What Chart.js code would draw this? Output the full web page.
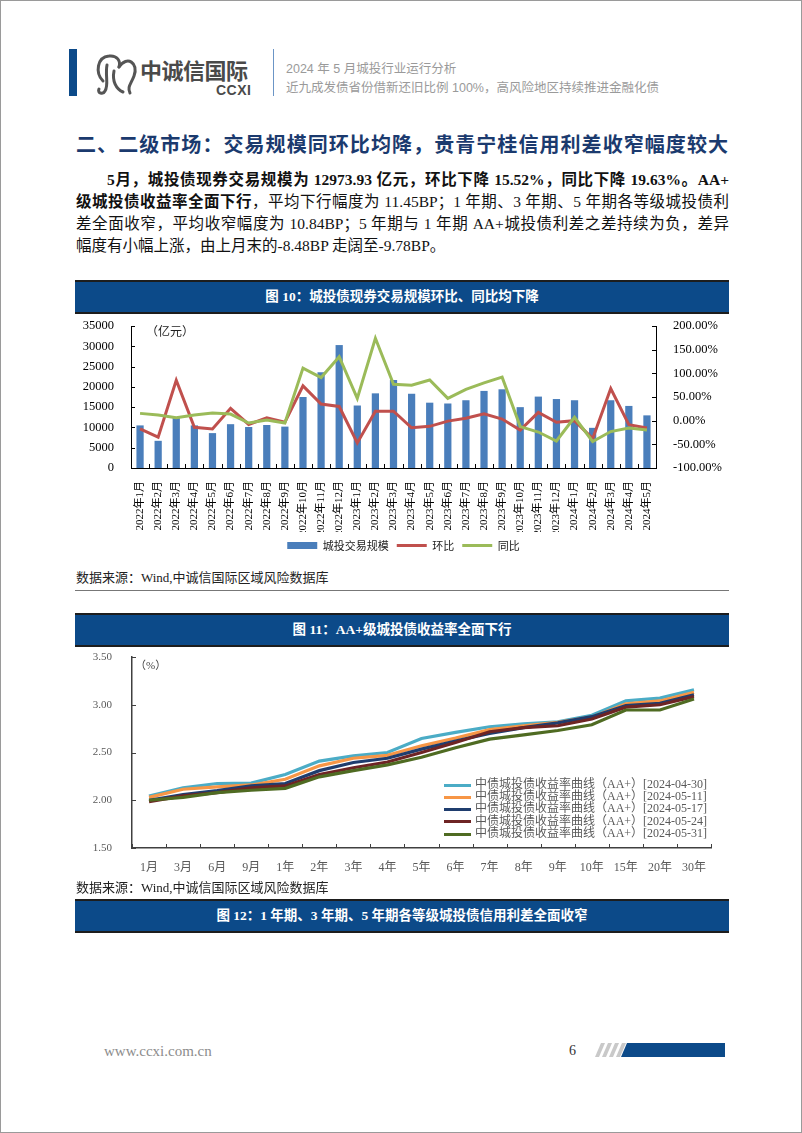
<!DOCTYPE html>
<html>
<head>
<meta charset="utf-8">
<script src="https://cdn.jsdelivr.net/npm/chart.js@4.4.1/dist/chart.umd.min.js"></script>
<style>
body { margin: 0; background: #fff; }
#page { position: relative; width: 800px; height: 1131px; border: 1px solid #9a9a9a; overflow: hidden;
  font-family: "Liberation Serif", "Noto Sans CJK SC", serif; color: #111; }
.abs { position: absolute; }
.hbar { left: 68px; top: 48px; width: 8px; height: 47px; background: #0c4a89; }
.vline { left: 272px; top: 48px; width: 1px; height: 47px; background: #6b95c6; }
.logo-cn { left: 139px; top: 54px; font: bold 22px "Noto Sans CJK SC"; color: #4a4a4a; letter-spacing: -0.5px; line-height: 28px; }
.logo-en { left: 215px; top: 82px; font: bold 14px "Liberation Sans", sans-serif; color: #4a4a4a; letter-spacing: 0.5px; line-height: 15px; }
.htxt { left: 285px; font-size: 12.5px; color: #9a9a9a; font-family: "Liberation Sans", "Noto Sans CJK SC", sans-serif; }
.heading { left: 75px; top: 128px; width: 652px; font: bold 20px "Noto Sans CJK SC"; color: #1b3a6e;
  text-align: justify; text-align-last: justify; }
.para { left: 75px; top: 168px; width: 653px; font-size: 15.5px; }
.para div { height: 22px; line-height: 22px; text-align: justify; text-align-last: justify; white-space: nowrap; }
.para div.last { text-align-last: left; }
.para b { font-weight: bold; }
.figbar { left: 74px; width: 654px; height: 30px; background: #0c4a89; border-top: 2px solid #1d1d1d;
  border-bottom: 2px solid #1d1d1d; color: #fff; font: bold 13.5px "Liberation Serif", "Noto Sans CJK SC";
  text-align: center; line-height: 30px; }
.src { left: 75px; font-size: 13px; color: #222; }
.rule { left: 74px; width: 654px; height: 1px; background: #777; }
canvas { position: absolute; }
.unit { font-size: 12px; color: #222; }
#legend2 { left: 443px; top: 777px; font-size: 12px; color: #595959; }
#legend2 .row { height: 12.2px; line-height: 12.2px; white-space: nowrap; }
#legend2 .sw { display: inline-block; width: 27px; height: 3px; vertical-align: middle; margin-right: 4px; }
.foot { left: 103px; top: 1042px; font-size: 15px; color: #8c8c8c; }
.pno { left: 568px; top: 1042px; font-size: 14px; color: #333; }
</style>
</head>
<body>
<div id="page">
  <div class="abs hbar"></div>
  <svg class="abs" style="left:92px;top:50px" width="46" height="46" viewBox="0 0 46 46">
    <g fill="none" stroke="#555" stroke-width="3" stroke-linecap="round">
      <path d="M10 30 C2 22 4 6 16 5 C24 4 28 10 26 16"/>
      <path d="M26 16 C34 4 46 12 41 25 C38 33 34 36 37 42"/>
      <path d="M14 14 C12 24 16 34 12 40 C10 44 4 42 6 38"/>
      <path d="M21 20 C19 30 23 38 30 41"/>
    </g>
  </svg>
  <div class="abs logo-cn">中诚信国际</div>
  <div class="abs logo-en">CCXI</div>
  <div class="abs vline"></div>
  <div class="abs htxt" style="top:57px">2024 年 5 月城投行业运行分析</div>
  <div class="abs htxt" style="top:76px">近九成发债省份借新还旧比例 100%，高风险地区持续推进金融化债</div>

  <div class="abs heading">二、二级市场：交易规模同环比均降，贵青宁桂信用利差收窄幅度较大</div>
  <div class="abs para">
    <div style="padding-left:31px"><b>5月，城投债现券交易规模为 12973.93 亿元，环比下降 15.52%，同比下降 19.63%。AA+</b></div>
    <div><b>级城投债收益率全面下行</b>，平均下行幅度为 11.45BP；1 年期、3 年期、5 年期各等级城投债利</div>
    <div>差全面收窄，平均收窄幅度为 10.84BP；5 年期与 1 年期 AA+城投债利差之差持续为负，差异</div>
    <div class="last">幅度有小幅上涨，由上月末的-8.48BP 走阔至-9.78BP。</div>
  </div>

  <div class="abs figbar" style="top:279px">图 10：城投债现券交易规模环比、同比均下降</div>
  <canvas id="c1" width="665" height="246" style="left:70px;top:314px"></canvas>
  <div class="abs unit" style="left:145px;top:321px">（亿元）</div>
  <div class="abs src" style="top:566px">数据来源：Wind,中诚信国际区域风险数据库</div>
  <div class="abs rule" style="top:589px"></div>

  <div class="abs figbar" style="top:612px">图 11：AA+级城投债收益率全面下行</div>
  <canvas id="c2" width="660" height="234" style="left:70px;top:646px"></canvas>
  <div class="abs unit" style="left:134px;top:655px;font-size:11px;color:#444">（%）</div>
  <div class="abs" id="legend2"></div>
  <div class="abs src" style="top:876px">数据来源：Wind,中诚信国际区域风险数据库</div>

  <div class="abs figbar" style="top:898px">图 12：1 年期、3 年期、5 年期各等级城投债信用利差全面收窄</div>

  <div class="abs foot">www.ccxi.com.cn</div>
  <div class="abs pno">6</div>
  <svg class="abs" style="left:588px;top:1042px" width="140" height="14">
    <g fill="#c9c9c9">
      <polygon points="6,14 10,14 16,0 12,0"/>
      <polygon points="13,14 17,14 23,0 19,0"/>
      <polygon points="20,14 24,14 30,0 26,0"/>
      <polygon points="27,14 31,14 37,0 33,0"/>
    </g>
    <polygon points="32,14 136,14 136,0 38,0" fill="#0c4a89"/>
  </svg>
</div>

<script>
// 图10 数据
const months = ['2022年1月', '2022年2月', '2022年3月', '2022年4月', '2022年5月', '2022年6月', '2022年7月', '2022年8月', '2022年9月', '2022年10月', '2022年11月', '2022年12月',
  '2023年1月', '2023年2月', '2023年3月', '2023年4月', '2023年5月', '2023年6月', '2023年7月', '2023年8月', '2023年9月', '2023年10月', '2023年11月', '2023年12月',
  '2024年1月', '2024年2月', '2024年3月', '2024年4月', '2024年5月'];
const volume = [10500, 6700, 12300, 10500, 8600, 10800, 10100, 10600, 10200, 17500, 23600, 30300,
  15400, 18400, 21700, 18300, 16100, 15900, 16700, 19000, 19400, 15000, 17600, 17000,
  16700, 9900, 16700, 15300, 12973.93];
const mom = [-17.5, -35, 85.5, -14, -17.5, 26, -8, 6, -3.5, 73.6, 35, 30,
  -47, 20, 20, -15, -12, -1, 5, 14.7, 3.5, -20, 17.5, -3.5,
  0, -38, 68, -8.4, -15.52];
const yoy = [15.4, 12, 6, 12, 16, 14, -5, 1.6, -5, 111, 91, 135,
  47, 174, 77, 75, 86, 47, 66, 80, 92, -12.5, -24, -43,
  7, -44, -23, -15.5, -19.63];
const volTicks = [0, 5000, 10000, 15000, 20000, 25000, 30000, 35000];
const pctTicks = [-100, -50, 0, 50, 100, 150, 200];

// 图11 数据
const tenors = ['1月', '3月', '6月', '9月', '1年', '2年', '3年', '4年', '5年', '6年', '7年', '8年', '9年', '10年', '15年', '20年', '30年'];
const curveNames = ['中债城投债收益率曲线（AA+）[2024-04-30]', '中债城投债收益率曲线（AA+）[2024-05-11]', '中债城投债收益率曲线（AA+）[2024-05-17]',
  '中债城投债收益率曲线（AA+）[2024-05-24]', '中债城投债收益率曲线（AA+）[2024-05-31]'];
const y0430 = [2.045, 2.13, 2.175, 2.18, 2.27, 2.41, 2.465, 2.50, 2.647, 2.71, 2.77, 2.80, 2.82, 2.89, 3.04, 3.07, 3.157];
const y0511 = [2.03, 2.115, 2.14, 2.16, 2.22, 2.36, 2.44, 2.47, 2.57, 2.65, 2.74, 2.78, 2.815, 2.87, 3.01, 3.04, 3.13];
const y0517 = [2.00, 2.06, 2.10, 2.15, 2.175, 2.31, 2.395, 2.44, 2.535, 2.62, 2.70, 2.76, 2.81, 2.875, 2.99, 3.015, 3.105];
const y0524 = [1.985, 2.045, 2.08, 2.13, 2.15, 2.27, 2.34, 2.40, 2.50, 2.605, 2.717, 2.76, 2.78, 2.85, 2.975, 3.00, 3.085];
const y0531 = [2.00, 2.03, 2.08, 2.105, 2.125, 2.245, 2.31, 2.37, 2.45, 2.55, 2.64, 2.685, 2.73, 2.79, 2.945, 2.945, 3.06];
const yieldTicks = [1.5, 2.0, 2.5, 3.0, 3.5];
const curveColors = ['#4bacc6', '#f79646', '#1f3d6e', '#6e2424', '#4f6b22'];

Chart.defaults.font.family = '"Liberation Serif", "Noto Sans CJK SC", serif';
Chart.defaults.animation = false;

// short tick marks pointing into the plot, like the Excel original
const innerTicks = {
  id: 'innerTicks',
  afterDraw(chart, args, opts) {
    const ctx = chart.ctx;
    const len = opts.len || 4;
    ctx.save();
    ctx.strokeStyle = opts.color || '#000';
    ctx.lineWidth = 1;
    ctx.beginPath();
    Object.values(chart.scales).forEach(s => {
      if (s.axis === 'x') {
        const n = s.ticks.length;
        for (let i = 0; i <= n; i++) {
          const x = Math.round(s.left + i * s.width / n) + 0.5;
          ctx.moveTo(x, s.top);
          ctx.lineTo(x, s.top - len);
        }
      } else {
        const left = s.position === 'left';
        const edge = left ? s.right : s.left;
        s.ticks.forEach((t, i) => {
          const y = Math.round(s.getPixelForTick(i)) + 0.5;
          ctx.moveTo(edge, y);
          ctx.lineTo(edge + (left ? len : -len), y);
        });
      }
    });
    ctx.stroke();
    ctx.restore();
  }
};

// fixed axis size, and keep label overflow from pushing the plot area down
const fixWidth = w => s => { s.width = w; s.paddingTop = 0; s.paddingBottom = 0; };

new Chart(document.getElementById('c1'), {
  type: 'bar',
  plugins: [innerTicks],
  data: {
    labels: months,
    datasets: [
      {
        label: '城投交易规模',
        data: volume,
        backgroundColor: '#4a7ebb',
        borderWidth: 0,
        barPercentage: 0.4,
        categoryPercentage: 1,
        pointStyle: 'rect',
        yAxisID: 'y',
        order: 3
      },
      {
        type: 'line',
        label: '环比',
        data: mom,
        borderColor: '#c0504d',
        backgroundColor: '#c0504d',
        borderWidth: 3,
        pointRadius: 0,
        pointStyle: 'line',
        tension: 0,
        yAxisID: 'y1',
        order: 2
      },
      {
        type: 'line',
        label: '同比',
        data: yoy,
        borderColor: '#9bbb59',
        backgroundColor: '#9bbb59',
        borderWidth: 3,
        pointRadius: 0,
        pointStyle: 'line',
        tension: 0,
        yAxisID: 'y1',
        order: 1
      }
    ]
  },
  options: {
    responsive: false,
    layout: { padding: { top: 11 } },
    scales: {
      x: {
        grid: { display: false },
        border: { display: true, color: '#000', width: 1 },
        ticks: { autoSkip: false, minRotation: 90, maxRotation: 90, padding: 5, color: '#000', font: { size: 11 } },
        afterFit: s => { s.height = 64; }
      },
      y: {
        position: 'left',
        min: 0,
        max: 35000,
        afterBuildTicks: s => { s.ticks = volTicks.map(v => ({ value: v })); },
        grid: { display: false },
        border: { display: true, color: '#000', width: 1 },
        ticks: { autoSkip: false, padding: 9, color: '#000', font: { size: 12.5 }, callback: v => String(v) },
        afterFit: fixWidth(60)
      },
      y1: {
        position: 'right',
        min: -100,
        max: 200,
        afterBuildTicks: s => { s.ticks = pctTicks.map(v => ({ value: v })); },
        grid: { display: false },
        border: { display: true, color: '#000', width: 1 },
        ticks: { autoSkip: false, padding: 9, color: '#000', font: { size: 12.5 }, callback: v => v.toFixed(2) + '%' },
        afterFit: fixWidth(80)
      }
    },
    plugins: {
      innerTicks: { len: 4, color: '#000' },
      tooltip: { enabled: false },
      legend: {
        position: 'bottom',
        labels: {
          usePointStyle: true,
          pointStyleWidth: 30,
          boxHeight: 7,
          padding: 8,
          color: '#222',
          font: { size: 11, family: '"Noto Sans CJK SC"' },
          sort: (a, b) => a.datasetIndex - b.datasetIndex
        }
      }
    }
  }
});

const curves = [y0430, y0511, y0517, y0524, y0531];
new Chart(document.getElementById('c2'), {
  type: 'line',
  plugins: [innerTicks],
  data: {
    labels: tenors,
    datasets: curves.map((d, i) => ({
      label: curveNames[i],
      data: d,
      borderColor: curveColors[i],
      backgroundColor: curveColors[i],
      borderWidth: 3.2,
      pointRadius: 0,
      tension: 0,
      order: curves.length - i
    }))
  },
  options: {
    responsive: false,
    layout: { padding: { top: 10, right: 20 } },
    scales: {
      x: {
        offset: true,
        grid: { display: false, offset: true },
        border: { display: true, color: '#404040', width: 1.5 },
        ticks: { padding: 5, color: '#595959', font: { size: 12 } },
        afterFit: s => { s.height = 33; }
      },
      y: {
        min: 1.5,
        max: 3.5,
        afterBuildTicks: s => { s.ticks = yieldTicks.map(v => ({ value: v })); },
        grid: { display: false },
        border: { display: true, color: '#404040', width: 1.5 },
        ticks: { autoSkip: false, padding: 12, color: '#595959', font: { size: 11 }, callback: v => v.toFixed(2) },
        afterFit: fixWidth(61)
      }
    },
    plugins: {
      innerTicks: { len: 4, color: '#404040' },
      tooltip: { enabled: false },
      legend: { display: false }
    }
  }
});

// 图11 图例
const lg = document.getElementById('legend2');
curveNames.forEach((name, i) => {
  const row = document.createElement('div');
  row.className = 'row';
  row.innerHTML = '<span class="sw" style="background:' + curveColors[i] + '"></span>' + name;
  lg.appendChild(row);
});
</script>
</body>
</html>
